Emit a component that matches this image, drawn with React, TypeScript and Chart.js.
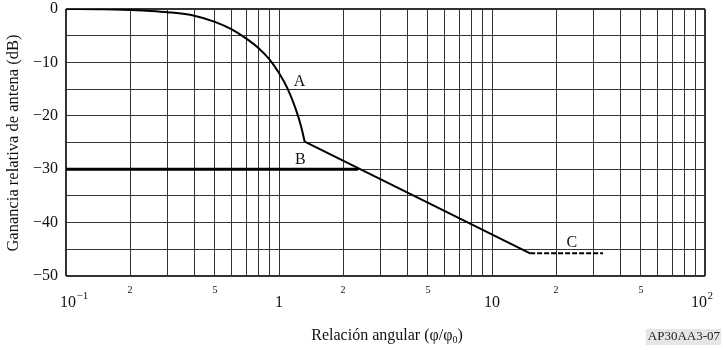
import React, { useEffect, useRef } from "react";
import { Chart, registerables } from "chart.js";

Chart.register(...registerables);

// Curve A (main lobe)
const curveARatio = [0.1, 0.15, 0.2, 0.25, 0.3, 0.4, 0.5, 0.6, 0.7, 0.8, 0.9, 1.0, 1.1, 1.2, 1.27, 1.32];
const curveAGain = [0, -0.05, -0.2, -0.37, -0.6, -1.25, -2.4, -3.8, -5.5, -7.3, -9.4, -12, -15, -18.8, -22, -24.85];
// Curve A sloped part
const slopeRatio = [1.32, 15.1];
const slopeGain = [-24.85, -45.75];
// Curve B
const curveBRatio = [0.1, 2.35];
const curveBGain = [-30, -30];
// Curve C
const curveCRatio = [15.1, 33.2];
const curveCGain = [-45.75, -45.75];

const xGridValues = [
  0.1, 0.2, 0.3, 0.4, 0.5, 0.6, 0.7, 0.8, 0.9,
  1, 2, 3, 4, 5, 6, 7, 8, 9,
  10, 20, 30, 40, 50, 60, 70, 80, 90, 100,
];
const yGridValues = [-50, -45, -40, -35, -30, -25, -20, -15, -10, -5, 0];
const yLabelValues = [0, -10, -20, -30, -40, -50];
const yLabelTexts = ["0", "\u221210", "\u221220", "\u221230", "\u221240", "\u221250"];
const xMinorLabelValues = [0.2, 0.5, 2, 5, 20, 50];
const xMinorLabelTexts = ["2", "5", "2", "5", "2", "5"];
const xDecadeValues = [0.1, 1, 10, 100];
const xDecadeBase = ["10", "1", "10", "10"];
const xDecadeSup = ["\u22121", "", "", "2"];

const curveLabels = [
  { text: "A", x: 1.25, y: -13.7 },
  { text: "B", x: 1.26, y: -28.3 },
  { text: "C", x: 23.7, y: -43.8 },
];

const SERIF = "'Liberation Serif', 'Times New Roman', serif";

const pts = (xs: number[], ys: number[]) => xs.map((x, i) => ({ x, y: ys[i] }));

const textPlugin = {
  id: "textPlugin",
  afterDraw(chart: any) {
    const ctx = chart.ctx as CanvasRenderingContext2D;
    const xs = chart.scales.x;
    const ys = chart.scales.y;
    ctx.save();
    ctx.fillStyle = "#111";
    // y tick labels
    ctx.font = `16px ${SERIF}`;
    ctx.textAlign = "right";
    ctx.textBaseline = "middle";
    yLabelValues.forEach((v, i) => {
      ctx.fillText(yLabelTexts[i], 58, ys.getPixelForValue(v));
    });
    // x minor labels
    ctx.font = `10px ${SERIF}`;
    ctx.textAlign = "center";
    xMinorLabelValues.forEach((v, i) => {
      ctx.fillText(xMinorLabelTexts[i], xs.getPixelForValue(v), 290);
    });
    // x decade labels
    xDecadeValues.forEach((v, i) => {
      let px = xs.getPixelForValue(v);
      if (i === xDecadeValues.length - 1) px -= 6;
      if (i === 0) px += 2;
      ctx.font = `16px ${SERIF}`;
      ctx.textAlign = "center";
      ctx.textBaseline = "middle";
      ctx.fillText(xDecadeBase[i], px, 303);
      if (xDecadeSup[i]) {
        const w = ctx.measureText(xDecadeBase[i]).width;
        ctx.font = `11px ${SERIF}`;
        ctx.textAlign = "left";
        ctx.fillText(xDecadeSup[i], px + w / 2 + 0.5, 296);
      }
    });
    // curve labels
    ctx.font = `16px ${SERIF}`;
    ctx.textAlign = "center";
    ctx.textBaseline = "middle";
    curveLabels.forEach((l) => {
      ctx.fillText(l.text, xs.getPixelForValue(l.x), ys.getPixelForValue(l.y));
    });
    // y title
    ctx.save();
    ctx.translate(14, 143);
    ctx.rotate(-Math.PI / 2);
    ctx.font = `16.5px ${SERIF}`;
    ctx.textAlign = "center";
    ctx.textBaseline = "middle";
    ctx.fillText("Ganancia relativa de antena (dB)", 0, 0);
    ctx.restore();
    // x title with subscript
    ctx.font = `16px ${SERIF}`;
    ctx.textAlign = "left";
    ctx.textBaseline = "middle";
    const p1 = "Relaci\u00f3n angular (\u03c6/\u03c6";
    const p3 = ")";
    const w1 = ctx.measureText(p1).width;
    ctx.font = `10px ${SERIF}`;
    const w2 = ctx.measureText("0").width;
    ctx.font = `16px ${SERIF}`;
    const w3 = ctx.measureText(p3).width;
    const total = w1 + w2 + w3;
    const sx = 387 - total / 2;
    ctx.fillText(p1, sx, 336);
    ctx.font = `10px ${SERIF}`;
    ctx.fillText("0", sx + w1, 340);
    ctx.font = `16px ${SERIF}`;
    ctx.fillText(p3, sx + w1 + w2, 336);
    // code label
    ctx.font = `13px ${SERIF}`;
    const code = "AP30AA3-07";
    const cw = ctx.measureText(code).width;
    ctx.fillStyle = "#e6e6e6";
    ctx.fillRect(720 - cw - 2, 329, cw + 3, 16);
    ctx.fillStyle = "#222";
    ctx.textAlign = "right";
    ctx.fillText(code, 720, 337);
    ctx.restore();
  },
};

export default function App() {
  const ref = useRef<HTMLCanvasElement | null>(null);
  useEffect(() => {
    if (!ref.current) return;
    const gridColor = "#333333";
    const chart = new Chart(ref.current, {
      type: "line",
      data: {
        datasets: [
          {
            label: "A",
            data: pts(curveARatio, curveAGain),
            borderColor: "#000",
            borderWidth: 2,
            pointRadius: 0,
            cubicInterpolationMode: "monotone",
            fill: false,
          },
          {
            label: "A slope",
            data: pts(slopeRatio, slopeGain),
            borderColor: "#000",
            borderWidth: 2,
            pointRadius: 0,
            fill: false,
          },
          {
            label: "B",
            data: pts(curveBRatio, curveBGain),
            borderColor: "#000",
            borderWidth: 3,
            pointRadius: 0,
            fill: false,
          },
          {
            label: "C",
            data: pts(curveCRatio, curveCGain),
            borderColor: "#000",
            borderWidth: 2,
            borderDash: [5, 2],
            pointRadius: 0,
            fill: false,
          },
        ],
      },
      options: {
        responsive: false,
        animation: false,
        layout: { padding: { left: 66, right: 18, top: 9, bottom: 74 } },
        plugins: { legend: { display: false }, tooltip: { enabled: false } },
        scales: {
          x: {
            type: "logarithmic",
            min: 0.1,
            max: 100,
            afterBuildTicks: (scale: any) => {
              scale.ticks = xGridValues.map((v) => ({ value: v }));
            },
            ticks: { display: false },
            border: { display: false },
            grid: {
              drawTicks: false,
              color: gridColor,
              lineWidth: (c: any) =>
                c.tick && (c.tick.value === 0.1 || c.tick.value === 100) ? 2 : 1,
            },
          },
          y: {
            type: "linear",
            min: -50,
            max: 0,
            afterBuildTicks: (scale: any) => {
              scale.ticks = yGridValues.map((v) => ({ value: v }));
            },
            ticks: { display: false },
            border: { display: false },
            grid: {
              drawTicks: false,
              color: gridColor,
              lineWidth: (c: any) =>
                c.tick && (c.tick.value === 0 || c.tick.value === -50) ? 2 : 1,
            },
          },
        },
      },
      plugins: [textPlugin],
    } as any);
    return () => chart.destroy();
  }, []);
  return (
    <div style={{ position: "fixed", left: 0, top: 0, width: 723, height: 350, background: "#fff" }}>
      <canvas ref={ref} width={723} height={350} style={{ width: 723, height: 350 }} />
    </div>
  );
}
